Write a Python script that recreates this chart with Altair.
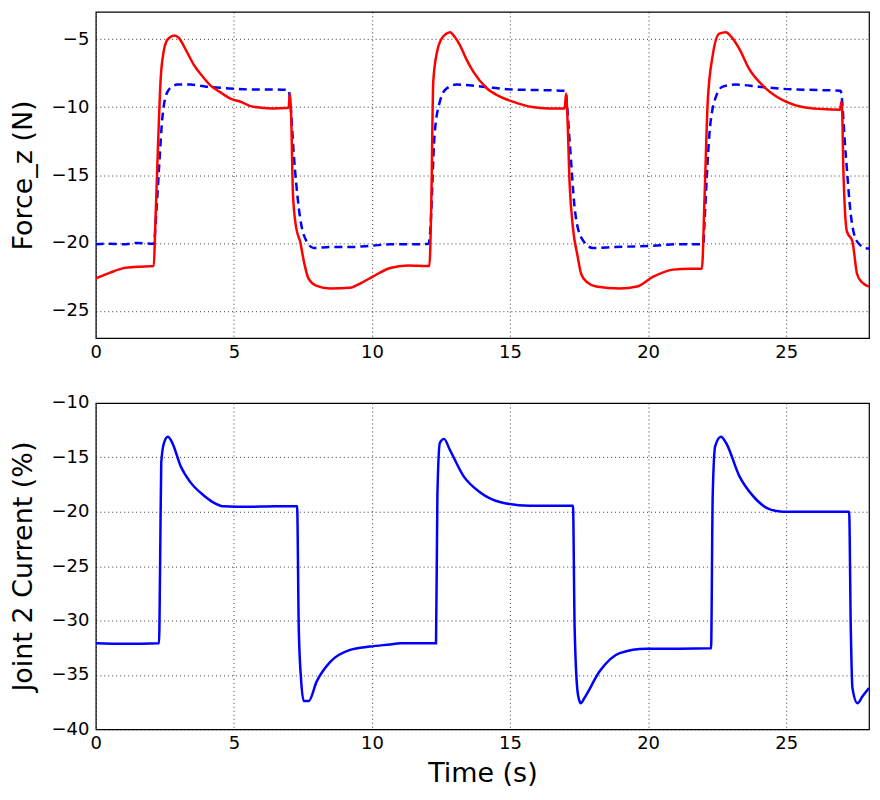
import altair as alt
import pandas as pd

# Force_z (N): measured (red, solid)
force_t = [0, 0.5, 1.0, 1.5, 2.1, 2.15, 2.25, 2.35, 2.45, 2.55, 2.7, 2.85, 3.0, 3.3, 3.55,
           3.85, 4.15, 4.5, 4.9, 5.3, 5.6, 6.0, 6.4, 6.98, 7.03, 7.07, 7.14, 7.25, 7.4, 7.55,
           7.7, 8.0, 8.5, 9.2, 9.6, 10.05, 10.66, 11.3, 12.08, 12.15, 12.22, 12.35, 12.52, 12.7,
           12.83, 13.0, 13.19, 13.4, 13.67, 14.15, 14.6, 15.1, 15.8, 16.4, 16.98, 17.03, 17.07,
           17.16, 17.28, 17.45, 17.58, 17.8, 18.12, 18.97, 19.6, 20.17, 20.9, 21.5, 21.95, 22.04,
           22.16, 22.34, 22.58, 22.82, 23.0, 23.3, 23.66, 24.27, 24.99, 25.59, 26.3, 26.95, 27.0,
           27.03, 27.07, 27.2, 27.4, 27.57, 27.75, 28.0]
force_v = [-22.6, -22.2, -21.85, -21.75, -21.7, -19.0, -13.0, -7.9, -6.0, -5.2, -4.85, -4.73, -4.9, -5.95, -6.9,
           -7.7, -8.4, -8.9, -9.4, -9.65, -9.93, -10.05, -10.1, -10.05, -9.0, -10.3, -16.4, -18.8, -19.9, -21.5,
           -22.6, -23.15, -23.35, -23.3, -22.95, -22.45, -21.84, -21.65, -21.7, -17.0, -8.15, -6.0, -4.98, -4.6,
           -4.5, -4.85, -5.46, -6.4, -7.4, -8.6, -9.2, -9.6, -10.0, -10.1, -10.1, -9.0, -10.3,
           -15.7, -18.9, -21.0, -22.3, -22.9, -23.2, -23.35, -23.2, -22.5, -21.96, -21.9, -21.9, -16.95,
           -9.6, -6.2, -4.6, -4.49, -4.8, -5.7, -7.2, -8.64, -9.6, -10.0, -10.15, -10.2, -9.6,
           -10.4, -14.5, -19.15, -19.9, -22.3, -22.9, -23.2]

# Force_z (N): reference (blue, dashed)
ref_t = [0, 0.5, 1.0, 1.5, 2.1, 2.2, 2.29, 2.41, 2.59, 2.8, 2.95, 3.43, 4.0, 4.63, 5.5, 6.32, 6.98,
         7.04, 7.17, 7.35, 7.53, 7.89, 8.5, 9.2, 10.0, 10.66, 11.5, 12.05, 12.1, 12.27, 12.46, 12.7,
         13.06, 14.0, 15.0, 16.0, 17.0, 17.16, 17.34, 17.58, 18.0, 18.8, 19.5, 20.2, 21.0, 22.0,
         22.04, 22.22, 22.4, 22.7, 23.18, 24.0, 25.2, 26.2, 26.97, 27.15, 27.34, 27.57, 27.93, 28.0]
ref_v = [-20.1, -20.05, -20.1, -20.0, -20.05, -17.5, -14.5, -10.8, -8.9, -8.45, -8.35, -8.35, -8.5, -8.6, -8.7, -8.7, -8.75,
         -9.6, -13.5, -17.4, -19.4, -20.37, -20.3, -20.3, -20.2, -20.1, -20.1, -20.05, -19.4, -12.0, -9.6, -8.64,
         -8.35, -8.5, -8.7, -8.75, -8.8, -12.55, -17.4, -19.6, -20.37, -20.3, -20.25, -20.2, -20.1, -20.1,
         -18.6, -12.0, -9.6, -8.5, -8.35, -8.5, -8.7, -8.75, -8.8, -13.3, -17.9, -19.9, -20.4, -20.4]

# Joint 2 Current (%)
cur_t = [0, 1.0, 2.29, 2.33, 2.37, 2.47, 2.61, 2.77, 3.07, 3.43, 3.91, 4.3, 4.63, 5.5, 6.5, 7.29,
         7.35, 7.43, 7.53, 7.71, 8.0, 8.49, 9.21, 9.93, 10.66, 11.02, 12.32, 12.37, 12.46, 12.61,
         12.82, 13.31, 13.91, 14.63, 15.7, 17.28, 17.34, 17.46, 17.56, 17.7, 18.24, 18.97, 19.93,
         21.13, 22.28, 22.34, 22.43, 22.64, 22.82, 23.3, 23.78, 24.39, 24.87, 27.28, 27.34, 27.4,
         27.58, 27.76, 28.0]
cur_v = [-32.1, -32.15, -32.1, -24.6, -15.5, -13.66, -13.1, -13.66, -15.8, -17.3, -18.5, -19.2, -19.5, -19.55, -19.5, -19.5,
         -30.7, -35.3, -37.4, -37.4, -35.6, -33.8, -32.7, -32.4, -32.2, -32.1, -32.1, -18.5, -13.66, -13.3,
         -14.3, -16.7, -18.2, -19.1, -19.45, -19.45, -30.7, -36.8, -37.6, -37.1, -34.7, -33.0, -32.6,
         -32.6, -32.56, -18.5, -13.96, -13.1, -13.66, -16.7, -18.5, -19.76, -20.0, -20.0, -30.7, -36.2,
         -37.6, -37.0, -36.2]

x_ticks = [0, 5, 10, 15, 20, 25]
top_ticks = [-25, -20, -15, -10, -5]
bot_ticks = [-40, -35, -30, -25, -20, -15, -10]

df_force = pd.DataFrame({"t": force_t, "v": force_v})
df_ref = pd.DataFrame({"t": ref_t, "v": ref_v})
df_cur = pd.DataFrame({"t": cur_t, "v": cur_v})

W, H = 775, 327
xscale = alt.Scale(domain=[0, 28], nice=False, zero=False)

x_top = alt.X("t:Q", scale=xscale, axis=alt.Axis(values=x_ticks, title=None))
red = alt.Chart(df_force).mark_line(color="#ff0000", strokeWidth=2.5, clip=True, interpolate="monotone").encode(
    x=x_top,
    y=alt.Y("v:Q", scale=alt.Scale(domain=[-27, -3], nice=False, zero=False),
            axis=alt.Axis(values=top_ticks, title="Force_z (N)")),
)
blue = alt.Chart(df_ref).mark_line(color="#0000ff", strokeWidth=2.5, strokeDash=[8, 5], clip=True,
                                   interpolate="monotone").encode(
    x=x_top,
    y=alt.Y("v:Q"),
)
top = alt.layer(blue, red).properties(width=W, height=H)

bottom = alt.Chart(df_cur).mark_line(color="#0000ff", strokeWidth=2.5, clip=True, interpolate="monotone").encode(
    x=alt.X("t:Q", scale=xscale, axis=alt.Axis(values=x_ticks, title="Time (s)")),
    y=alt.Y("v:Q", scale=alt.Scale(domain=[-40, -10], nice=False, zero=False),
            axis=alt.Axis(values=bot_ticks, title="Joint 2 Current (%)")),
).properties(width=W, height=H)

chart = alt.vconcat(top, bottom, spacing=31).properties(
    padding={"left": 1, "top": 2, "right": 2, "bottom": 2}
).configure_view(
    stroke="black", strokeWidth=1.2
).configure_axis(
    labelFont="DejaVu Sans", labelFontSize=18, labelColor="black",
    titleFont="DejaVu Sans", titleFontSize=27, titleFontWeight="normal", titleColor="black",
    grid=True, gridColor="black", gridDash=[1, 3], gridWidth=0.8, gridOpacity=1,
    domain=False, ticks=False, labelPadding=7, labelFlush=False, labelOverlap=False,
    titlePadding=13,
).configure_axisX(labelPadding=5, titlePadding=8)

chart.save("out.html", embed_options={"renderer": "svg", "actions": False})
